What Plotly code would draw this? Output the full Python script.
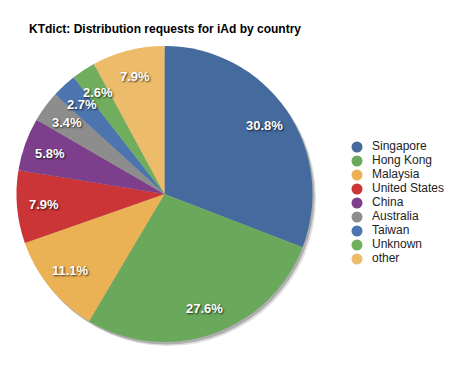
import math
import plotly.graph_objects as go

countries = ["Singapore", "Hong Kong", "Malaysia", "United States", "China",
             "Australia", "Taiwan", "Unknown", "other"]
shares = [30.8, 27.6, 11.1, 7.9, 5.8, 3.4, 2.7, 2.6, 7.9]
colors = ["#456A9E", "#6AA85B", "#EBB155", "#CB3537", "#7D3F8C",
          "#8D8D8D", "#4C74AE", "#70AE5E", "#EDBC6A"]
title_text = "KTdict: Distribution requests for iAd by country"

W, H = 469, 370
cx, cy, R = 164.5, 194.0, 148.0  # pie centre/radius in px


def dom(dx=0.0, dy=0.0):
    return dict(x=[(cx - R + dx) / W, (cx + R + dx) / W],
                y=[1 - (cy + R + dy) / H, 1 - (cy - R + dy) / H])


fig = go.Figure()

# soft drop shadow behind the pie
for (dx, dy, a) in [(3.5, 4.0, 0.12), (2.0, 2.5, 0.22)]:
    fig.add_trace(go.Pie(values=[1], labels=["shadow"], domain=dom(dx, dy),
                         marker=dict(colors=[f"rgba(0,0,0,{a})"], line=dict(width=0)),
                         textinfo="none", hoverinfo="skip", showlegend=False, sort=False))

fig.add_trace(go.Pie(
    labels=countries, values=shares, sort=False, direction="clockwise", rotation=0,
    domain=dom(), marker=dict(colors=colors, line=dict(width=0)),
    textinfo="none", showlegend=False,
))

# percentage labels placed along the slice mid-angles
total = sum(shares)
annotations = []
cum = 0.0
for v in shares:
    mid = (cum + v / 2) / total * 2 * math.pi
    cum += v
    r = 0.82 * R
    px = cx + r * math.sin(mid)
    py = cy - r * math.cos(mid)
    annotations.append(dict(
        x=px / W, y=1 - py / H, xref="paper", yref="paper", showarrow=False,
        text=f"{v:.1f}%", xanchor="center", yanchor="middle",
        font=dict(family="Liberation Sans", size=13, color="white", weight="bold",
                  shadow="1px 1px 2px rgba(0,0,0,0.75)"),
    ))

annotations.append(dict(
    x=27 / W, y=1 - 29 / H, xref="paper", yref="paper", showarrow=False,
    text=title_text, xanchor="left", yanchor="middle",
    font=dict(family="Liberation Sans", size=12, color="black", weight="bold"),
))

# custom legend with round markers
idx = list(range(len(countries)))
fig.add_trace(go.Scatter(x=[0] * len(countries), y=idx, mode="markers",
                         marker=dict(size=11, color=colors, line=dict(width=0)),
                         showlegend=False, hoverinfo="skip", cliponaxis=False))
fig.add_trace(go.Scatter(x=[15] * len(countries), y=idx, mode="text", text=countries,
                         textposition="middle right",
                         textfont=dict(family="Liberation Sans", size=12, color="#222222"),
                         showlegend=False, hoverinfo="skip", cliponaxis=False))

fig.update_layout(
    width=W, height=H, autosize=False,
    margin=dict(l=0, r=0, t=0, b=0),
    paper_bgcolor="white", plot_bgcolor="rgba(0,0,0,0)",
    annotations=annotations,
    xaxis=dict(domain=[347 / W, 1], range=[-10, 112], visible=False, fixedrange=True),
    yaxis=dict(domain=[1 - 266 / H, 1 - 140 / H], range=[8.5, -0.5], visible=False,
               fixedrange=True),
    showlegend=False,
)

fig.write_html("out.html")
